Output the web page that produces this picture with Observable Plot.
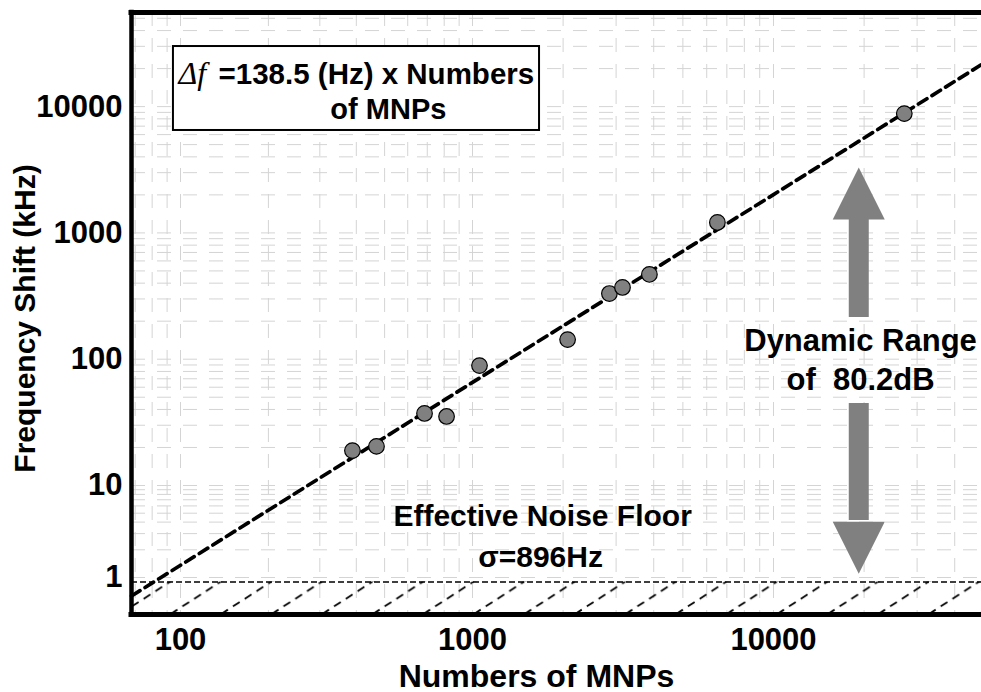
<!DOCTYPE html>
<html><head><meta charset="utf-8">
<script src="https://cdn.jsdelivr.net/npm/d3@7"></script>
<script src="https://cdn.jsdelivr.net/npm/@observablehq/plot@0.6"></script>
<style>
body{margin:0;background:#fff;}
#chart svg{display:block;}
</style>
</head><body><div id="chart"></div>
<script>
// ---- data ----
const mnpCount     = [388, 469, 685, 815, 1055, 2070, 2850, 3150, 3870, 6510, 27200];
const freqShiftKHz = [18.9, 20.4, 37.2, 35.2, 89, 143, 331, 370, 469, 1210, 8800];
// dashed fit line
const fitCount     = [68, 100, 1000, 10000, 49100];
const fitShiftKHz  = [0.63, 1.36, 65.5, 2010, 21500];
const noiseFloorKHz = 0.896;
// axes
const xTicks = [100, 1000, 10000];
const yTicks = [1, 10, 100, 1000, 10000];
const xDomain = [68, 100, 1000, 10000, 49100];
const yDomain = [0.396, 1, 10, 55600];
// annotations
const arrowX = 19200;
const arrowShaftFrom = [214, 44.6];
const arrowShaftTo   = [1300, 4.17];
const arrowTip       = [3300, 1.1];
const arrowRotate    = [0, 180];
const boxX = [94.6, 1670];
const boxY = [6470, 29900];
const labelText = ["Dynamic Range", "of\u00a0\u00a080.2dB", "Effective Noise Floor", "\u03c3=896Hz", "of MNPs"];
const labelX    = [19460, 19460, 1710, 1683, 515];
const labelY    = [138, 67.8, 4.56, 1.67, 9530];
const labelSize = [31, 31, 30, 30, 29];

const points = mnpCount.map((n, i) => ({n, f: freqShiftKHz[i]}));
const fit = fitCount.map((n, i) => ({n, f: fitShiftKHz[i]}));
const labels = labelText.map((t, i) => ({t, x: labelX[i], y: labelY[i], s: labelSize[i]}));
const shafts = arrowShaftFrom.map((a, i) => ({x: arrowX, y1: a, y2: arrowShaftTo[i]}));
const heads = arrowTip.map((t, i) => ({x: arrowX, y: t, r: arrowRotate[i]}));

const minor = (lo, hi) => {
  const out = [];
  for (let d = 1; d <= 100000; d *= 10)
    for (let k = 1; k <= 9; k++) { const v = k * d; if (v > lo && v < hi) out.push(v); }
  return out;
};
const xGrid = minor(xDomain[0], xDomain[xDomain.length - 1]);
const yGrid = minor(yDomain[0], yDomain[yDomain.length - 1]);

const FONT = "Liberation Sans, Arial, Helvetica, sans-serif";
const headSymbol = {draw(ctx) { ctx.moveTo(0, 0); ctx.lineTo(26, 52); ctx.lineTo(-26, 52); ctx.closePath(); }};

const W = 981, H = 692, mL = 131, mR = 0, mT = 12, mB = 78;

const chart = Plot.plot({
  width: W, height: H,
  marginLeft: mL, marginRight: mR, marginTop: mT, marginBottom: mB,
  style: {fontFamily: FONT, background: "#fff", color: "#000"},
  x: {type: "log", domain: xDomain, range: [131, 180, 472, 773, 981], axis: null},
  y: {type: "log", domain: yDomain, range: [614, 577, 485, 12], axis: null},
  marks: [
    Plot.gridX(xGrid, {stroke: "#d4d4d4", strokeOpacity: 1, strokeWidth: 1, strokeDasharray: "14,12"}),
    Plot.gridY(yGrid, {stroke: "#d4d4d4", strokeOpacity: 1, strokeWidth: 1, strokeDasharray: "14,12"}),
    Plot.rect([{}], {x1: xDomain[0], x2: xDomain[xDomain.length - 1], y1: yDomain[0], y2: noiseFloorKHz, fill: "url(#hatch)"}),
    Plot.ruleY([noiseFloorKHz], {stroke: "#000", strokeWidth: 1.5, strokeDasharray: "6,3"}),
    Plot.line(fit, {x: "n", y: "f", stroke: "#000", strokeWidth: 3.7, strokeDasharray: "10,6"}),
    Plot.dot(points, {x: "n", y: "f", r: 7.8, fill: "#808080", stroke: "#000", strokeWidth: 1.2}),
    Plot.ruleX(shafts, {x: "x", y1: "y1", y2: "y2", stroke: "#808080", strokeWidth: 20}),
    Plot.dot(heads, {x: "x", y: "y", rotate: "r", symbol: headSymbol, fill: "#808080", stroke: "none"}),
    Plot.rect([{}], {x1: boxX[0], x2: boxX[1], y1: boxY[0], y2: boxY[1], fill: "#fff", stroke: "#000", strokeWidth: 2}),
    Plot.text(["\u0394f"], {x: 98.4, y: 18100, textAnchor: "start", fontFamily: "Liberation Serif, Times New Roman, serif", fontStyle: "italic", fontSize: 32, fill: "#000"}),
    Plot.text(["=138.5 (Hz) x Numbers"], {x: 135, y: 18100, textAnchor: "start", fontSize: 29.5, fontWeight: "bold", fill: "#000"}),
    Plot.text(labels, {x: "x", y: "y", text: "t", fontSize: d => d.s, fontWeight: "bold", fill: "#000"}),
    Plot.axisX(xTicks, {tickSize: 0, tickPadding: 13, fontSize: 31, fontWeight: "bold", tickFormat: d => String(d), label: null}),
    Plot.axisY(yTicks, {tickSize: 0, tickPadding: 9, fontSize: 31, fontWeight: "bold", tickFormat: d => String(d), label: null}),
    Plot.text(["Numbers of MNPs"], {frameAnchor: "bottom", textAnchor: "middle", dx: -20, dy: 72, fontSize: 32, fontWeight: "bold", fill: "#000"}),
    Plot.text(["Frequency Shift (kHz)"], {frameAnchor: "left", textAnchor: "middle", rotate: -90, dx: -106, dy: 5, fontSize: 30, fontWeight: "bold", fill: "#000"}),
    Plot.ruleY([yDomain[0]], {stroke: "#000", strokeWidth: 5, strokeLinecap: "square"}),
    Plot.ruleY([yDomain[yDomain.length - 1]], {stroke: "#000", strokeWidth: 5, strokeLinecap: "square"}),
    Plot.ruleX([xDomain[0]], {stroke: "#000", strokeWidth: 4.5, strokeLinecap: "square"})
  ]
});

// hatch pattern (diagonal dashed lines) aligned to the noise-floor band
const yScaleObj = chart.scale("y");
const bandTop = yScaleObj.apply(noiseFloorKHz), bandBot = yScaleObj.apply(yDomain[0]);
const hh = bandBot - bandTop;
const svgNS = "http://www.w3.org/2000/svg";
const defsEl = document.createElementNS(svgNS, "defs");
defsEl.innerHTML = `<pattern id="hatch" patternUnits="userSpaceOnUse" x="19" y="${bandTop}" width="${hh * 1.55}" height="${hh}">
<line x1="0" y1="${hh}" x2="${hh * 1.55}" y2="0" stroke="#000" stroke-width="1.8" stroke-dasharray="8,6"/></pattern>`;
chart.insertBefore(defsEl, chart.firstChild);
document.getElementById("chart").appendChild(chart);
</script>
</body></html>
